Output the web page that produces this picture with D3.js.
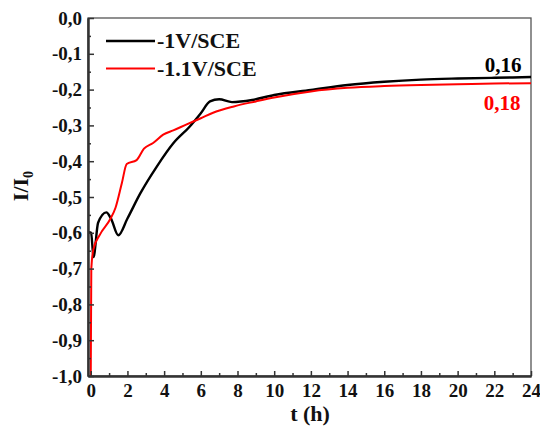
<!DOCTYPE html>
<html><head><meta charset="utf-8">
<script src="https://cdn.jsdelivr.net/npm/d3@7"></script>
<style>body{margin:0;background:#fff}svg{display:block}</style>
</head><body>
<svg id="c" width="540" height="431"></svg>
<script>
const tBlack = [-0.12, 0.02, 0.15, 0.4, 0.85, 1.1, 1.5, 2.0, 2.7, 3.6, 4.5, 5.4, 6.0, 6.5, 7.0, 7.7, 8.8, 10, 12, 14, 16, 18, 20, 22, 24];
const vBlack = [-0.598, -0.600, -0.668, -0.572, -0.543, -0.560, -0.607, -0.560, -0.490, -0.415, -0.350, -0.303, -0.266, -0.233, -0.227, -0.235, -0.229, -0.215, -0.201, -0.187, -0.178, -0.172, -0.169, -0.167, -0.165];
const tRed = [0, 0.03, 0.14, 0.5, 1.05, 1.35, 1.7, 1.96, 2.5, 2.9, 3.4, 3.95, 4.5, 5.2, 6.0, 6.7, 7.8, 9, 10, 12, 14, 16, 18, 20, 22, 24];
const vRed = [-1.0, -0.700, -0.647, -0.605, -0.563, -0.530, -0.460, -0.408, -0.397, -0.365, -0.349, -0.326, -0.314, -0.298, -0.280, -0.264, -0.247, -0.233, -0.222, -0.205, -0.195, -0.190, -0.187, -0.185, -0.183, -0.182];
const xTicks = [0, 2, 4, 6, 8, 10, 12, 14, 16, 18, 20, 22, 24];
const xMinor = [1, 3, 5, 7, 9, 11, 13, 15, 17, 19, 21, 23];
const yTicks = [0, -0.1, -0.2, -0.3, -0.4, -0.5, -0.6, -0.7, -0.8, -0.9, -1.0];
const yMinor = [-0.05, -0.15, -0.25, -0.35, -0.45, -0.55, -0.65, -0.75, -0.85, -0.95];
const seriesNames = ["-1V/SCE", "-1.1V/SCE"];
const endLabels = ["0,16", "0,18"];

const FONT = "'Liberation Serif', 'Times New Roman', serif";
const svg = d3.select("#c");
const L = 88, R = 531, T = 18, B = 376;
const x = d3.scaleLinear().domain([-0.15, 24]).range([L, R]);
const y = d3.scaleLinear().domain([-1, 0]).range([B, T]);
const fmt = d => d3.format(".1f")(d).replace(".", ",").replace("−", "-");

svg.append("rect").attr("x", L).attr("y", T).attr("width", R - L).attr("height", B - T)
  .attr("fill", "none").attr("stroke", "#555").attr("stroke-width", 1.3);

const line = d3.line().x(d => x(d[0])).y(d => y(d[1])).curve(d3.curveMonotoneX);
const black = tBlack.map((t, i) => [t, vBlack[i]]);
const red = tRed.map((t, i) => [t, vRed[i]]);
svg.append("path").datum(black).attr("d", line).attr("fill", "none").attr("stroke", "#000").attr("stroke-width", 2.4);
svg.append("path").datum(red).attr("d", line).attr("fill", "none").attr("stroke", "#ff0000").attr("stroke-width", 2);

const gx = svg.append("g").attr("transform", `translate(0,${B})`)
  .call(d3.axisBottom(x).tickValues(xTicks).tickSize(-5).tickSizeOuter(0).tickPadding(8).tickFormat(d3.format("d")));
const gxm = svg.append("g").attr("transform", `translate(0,${B})`)
  .call(d3.axisBottom(x).tickValues(xMinor).tickSize(-3).tickSizeOuter(0).tickFormat(""));
const gy = svg.append("g").attr("transform", `translate(${L},0)`)
  .call(d3.axisLeft(y).tickValues(yTicks).tickSize(-6).tickSizeOuter(0).tickPadding(6).tickFormat(fmt));
const gym = svg.append("g").attr("transform", `translate(${L},0)`)
  .call(d3.axisLeft(y).tickValues(yMinor).tickSize(-3).tickSizeOuter(0).tickFormat(""));
[gx, gxm, gy, gym].forEach(g => {
  g.attr("font-family", FONT);
  g.selectAll("path.domain").attr("stroke", "#333").attr("stroke-width", 2);
  g.selectAll(".tick line").attr("stroke", "#333").attr("stroke-width", 1.5);
});
gx.selectAll("text").attr("font-size", 19).attr("fill", "#111").style("font-family", FONT).attr("font-weight", "bold").attr("dy", "0.71em");
gy.selectAll("text").attr("font-size", 19).attr("fill", "#111").style("font-family", FONT).attr("font-weight", "bold");

function txt(sel) { return sel.style("font-family", FONT).attr("font-weight", "bold"); }

txt(svg.append("text")).attr("x", 310).attr("y", 421).attr("text-anchor", "middle").attr("font-size", 22).attr("fill", "#111").text("t (h)");
const yt = txt(svg.append("text")).attr("transform", "translate(28,186) rotate(-90)").attr("text-anchor", "middle").attr("font-size", 22).attr("fill", "#111");
yt.append("tspan").text("I/I");
yt.append("tspan").attr("font-size", 14).attr("dy", 5).text("0");

const colors = ["#000", "#ff0000"];
[0, 1].forEach(i => {
  const ly = 41 + i * 27.5;
  svg.append("line").attr("x1", 106).attr("x2", 155).attr("y1", ly).attr("y2", ly).attr("stroke", colors[i]).attr("stroke-width", i ? 2 : 2.4);
  txt(svg.append("text")).attr("x", 157).attr("y", ly + 7).attr("font-size", 22).attr("fill", "#111").text(seriesNames[i]);
});

txt(svg.append("text")).attr("x", 503).attr("y", 72).attr("text-anchor", "middle").attr("font-size", 21).attr("fill", "#000").text(endLabels[0]);
txt(svg.append("text")).attr("x", 502).attr("y", 110).attr("text-anchor", "middle").attr("font-size", 21).attr("fill", "#ff0000").text(endLabels[1]);
</script>
</body></html>
